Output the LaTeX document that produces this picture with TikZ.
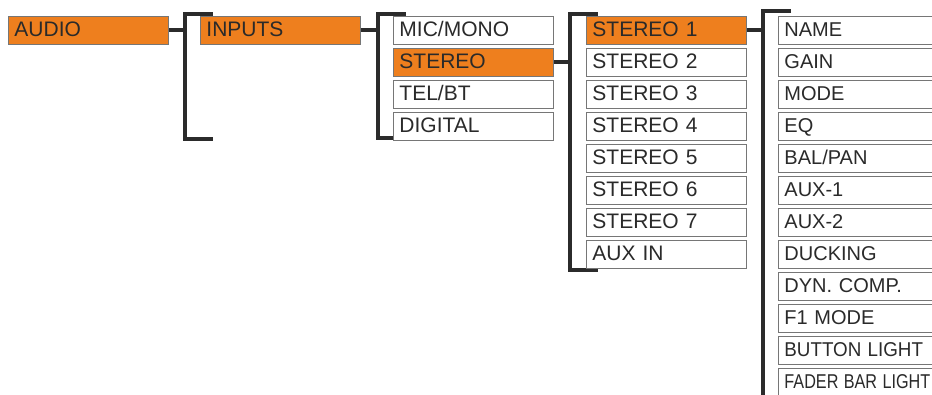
\documentclass[tikz,border=0pt]{standalone}
\usepackage{fontspec}
\setmainfont{Liberation Sans}
\usepackage{graphicx}
\usetikzlibrary{backgrounds}
\usepackage{xcolor}
\definecolor{menuorange}{HTML}{EE7F1E}
\definecolor{menuborder}{HTML}{767676}
\definecolor{menutext}{HTML}{2A2A2A}
\definecolor{bracketdark}{HTML}{2B2B2B}
\tikzset{
  item/.style={draw=menuborder,line width=0.9pt,fill=white,anchor=north west,align=left,text width=148pt,inner xsep=6pt,inner ysep=0pt,minimum height=28pt,text height=15pt,text depth=2.5pt,text=menutext,font=\fontsize{21}{24}\selectfont},
  activeitem/.style={item,fill=menuorange},
  leafitem/.style={item,font=\fontsize{20}{24}\selectfont},
  link/.style={draw=bracketdark,line width=4pt},
  bracket/.style={link,line join=miter}
}

\begin{document}
\begin{tikzpicture}[x=1pt,y=-1pt]
  \clip (0,0) rectangle (932,394);
  % level 1 and 2
  \node[activeitem] (audio) at (8,16) {AUDIO};
  \node[activeitem] (inputs) at (200,16) {INPUTS};
  % inputs
  \node[item] (micmono) at (393,16) {MIC/MONO};
  \node[activeitem] (stereo) at (393,48) {STEREO};
  \node[item] (telbt) at (393,80) {TEL/BT};
  \node[item] (digital) at (393,112) {DIGITAL};
  % stereo channels
  \node[activeitem] (stereoone) at (586,16) {STEREO 1};
  \node[item] (stereotwo) at (586,48) {STEREO 2};
  \node[item] (stereothree) at (586,80) {STEREO 3};
  \node[item] (stereofour) at (586,112) {STEREO 4};
  \node[item] (stereofive) at (586,144) {STEREO 5};
  \node[item] (stereosix) at (586,176) {STEREO 6};
  \node[item] (stereoseven) at (586,208) {STEREO 7};
  \node[item] (auxin) at (586,240) {AUX IN};
  % channel settings
  \node[leafitem] (name) at (778,16) {NAME};
  \node[leafitem] (gain) at (778,48) {GAIN};
  \node[leafitem] (mode) at (778,80) {MODE};
  \node[leafitem] (eq) at (778,112) {EQ};
  \node[leafitem] (balpan) at (778,144) {BAL/PAN};
  \node[leafitem] (auxone) at (778,176) {AUX-1};
  \node[leafitem] (auxtwo) at (778,208) {AUX-2};
  \node[leafitem] (ducking) at (778,240) {DUCKING};
  \node[leafitem] (dyncomp) at (778,272) {DYN. COMP.};
  \node[leafitem] (fonemode) at (778,304) {F1 MODE};
  \node[leafitem] (buttonlight) at (778,336) {\scalebox{0.94}[1]{BUTTON LIGHT}};
  \node[leafitem] (faderlight) at (778,368) {\scalebox{0.81}[1]{FADER BAR LIGHT}};
  % brackets
  \coordinate (spineA) at (185,14);
  \coordinate (spineB) at (378,14);
  \coordinate (spineC) at (569.5,14);
  \coordinate (spineD) at (763,11);
  \begin{scope}[on background layer]
    \draw[bracket] (spineA) ++(28,0) -- (spineA) -- ++(0,125) -- ++(28,0);
    \draw[bracket] (spineB) ++(28,0) -- (spineB) -- ++(0,124) -- ++(28,0);
    \draw[bracket] (spineC) ++(28.5,0) -- (spineC) -- ++(0,256) -- ++(28.5,0);
    \draw[bracket] (spineD) ++(28,0) -- (spineD) -- ++(0,400);
    \draw[link] (audio.east) -- (audio.east -| spineA);
    \draw[link] (inputs.east) -- (inputs.east -| spineB);
    \draw[link] (stereo.east) -- (stereo.east -| spineC);
    \draw[link] (stereoone.east) -- (stereoone.east -| spineD);
  \end{scope}
\end{tikzpicture}
\end{document}
